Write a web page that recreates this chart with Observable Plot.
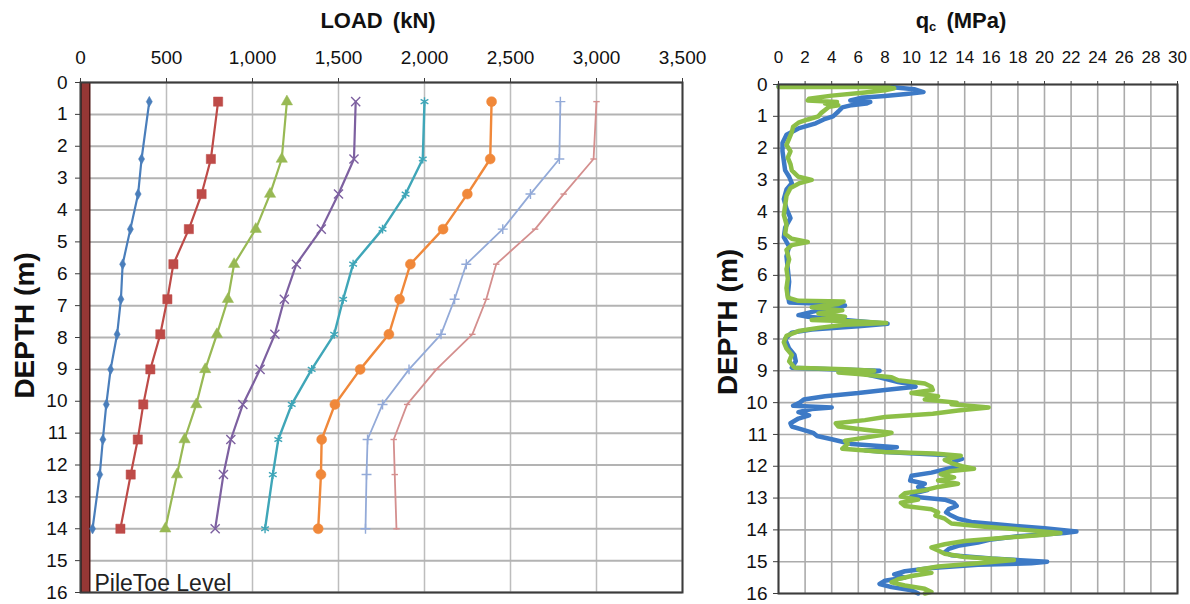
<!DOCTYPE html>
<html>
<head>
<meta charset="utf-8">
<script src="https://cdn.jsdelivr.net/npm/d3@7"></script>
<script src="https://cdn.jsdelivr.net/npm/@observablehq/plot@0.6"></script>
<style>
  html, body { margin: 0; padding: 0; background: #fff; }
  #page { position: relative; width: 1190px; height: 604px; overflow: hidden;
          font-family: "Liberation Sans", Arial, sans-serif; }
  .panel { position: absolute; top: 0; height: 604px; }
  .panel svg { position: absolute; left: 0; top: 38px; overflow: visible; }
  .title { position: absolute; top: 0; height: 38px; line-height: 42px; font-size: 22px;
           font-weight: bold; color: #111; white-space: nowrap; word-spacing: 4px;
           transform: translateX(-50%); }
  .title sub { font-size: 13px; vertical-align: -3px; line-height: 0; }
</style>
</head>
<body>
<div id="page">
  <div class="panel" id="load-panel" style="left:0;width:700px;">
    <div class="title" style="left:378px;">LOAD (kN)</div>
  </div>
  <div class="panel" id="cpt-panel" style="left:700px;width:490px;">
    <div class="title" style="left:261px;">q<sub>c</sub> (MPa)</div>
  </div>
</div>
<script>
// ---- Axis ticks ----
const loadTicks = [0, 500, 1000, 1500, 2000, 2500, 3000, 3500];
const depthTicks = [0, 1, 2, 3, 4, 5, 6, 7, 8, 9, 10, 11, 12, 13, 14, 15, 16];
const qcTicks = [0, 2, 4, 6, 8, 10, 12, 14, 16, 18, 20, 22, 24, 26, 28, 30];

// ---- Load distribution along the pile (strain-gauge levels, m) ----
const gaugeDepths = [0.6, 2.4, 3.5, 4.6, 5.7, 6.8, 7.9, 9.0, 10.1, 11.2, 12.3, 14.0];
const load400  = [400, 355, 335, 290, 245, 235, 213, 175, 150, 130, 112, 70];
const load800  = [800, 758, 704, 630, 540, 505, 464, 406, 365, 333, 292, 232];
const load1200 = [1200, 1170, 1102, 1019, 893, 857, 793, 725, 673, 605, 561, 493];
const load1600 = [1600, 1590, 1500, 1400, 1255, 1185, 1130, 1044, 944, 874, 831, 783];
const load2000 = [2000, 1990, 1890, 1756, 1585, 1527, 1475, 1344, 1228, 1150, 1118, 1073];
const load2400 = [2390, 2382, 2249, 2108, 1918, 1855, 1793, 1626, 1479, 1402, 1398, 1382];
const load2800 = [2790, 2784, 2616, 2455, 2243, 2175, 2096, 1910, 1756, 1669, 1663, 1657];
const load3000 = [3000, 2983, 2809, 2643, 2417, 2359, 2278, 2069, 1899, 1821, 1827, 1837];

// ---- Pile shaft (head to toe) ----
const pileDepths = [0, 16];

// ---- CPT cone resistance profiles: [depth (m), qc (MPa)] ----
const cptBlue = [
  [0.05, 0.0], [0.06, 8.0], [0.15, 10.2], [0.24, 10.9], [0.30, 9.6], [0.36, 8.0], [0.42, 6.2],
  [0.50, 5.4], [0.55, 6.9], [0.60, 6.6], [0.65, 5.5], [0.72, 4.8], [0.85, 4.5], [1.00, 4.1],
  [1.10, 3.4], [1.22, 2.8], [1.38, 1.5], [1.58, 0.6], [1.84, 0.3], [2.10, 0.3], [2.40, 0.4],
  [2.70, 0.5], [2.90, 0.8], [3.10, 1.0], [3.30, 0.6], [3.60, 0.4], [3.90, 0.6], [4.20, 0.9],
  [4.50, 0.5], [4.80, 0.4], [5.10, 0.8], [5.40, 0.6], [5.80, 0.7], [6.20, 0.8], [6.60, 0.7],
  [6.85, 0.8], [6.90, 3.8], [6.95, 5.0], [7.00, 4.6], [7.10, 3.0], [7.25, 1.5], [7.30, 2.2],
  [7.40, 5.0], [7.52, 8.2], [7.60, 6.0], [7.70, 2.5], [7.80, 1.0], [8.00, 0.5], [8.30, 0.8],
  [8.50, 1.2], [8.70, 1.3], [8.90, 1.0], [8.95, 4.0], [9.00, 7.6], [9.10, 6.5], [9.20, 7.5],
  [9.35, 9.0], [9.45, 10.2], [9.50, 10.3], [9.60, 8.0], [9.70, 6.0], [9.80, 3.5], [9.90, 1.9],
  [10.00, 1.6], [10.10, 1.1], [10.15, 4.0], [10.20, 2.5], [10.30, 1.5], [10.40, 2.3], [10.50, 1.5],
  [10.65, 0.9], [10.75, 1.0], [10.85, 1.8], [10.95, 2.6], [11.05, 2.9], [11.15, 4.0], [11.30, 5.5],
  [11.40, 8.9], [11.50, 6.5], [11.55, 8.0], [11.65, 12.5], [11.77, 13.8], [11.85, 13.2], [12.00, 13.5],
  [12.10, 12.5], [12.20, 11.5], [12.30, 10.0], [12.45, 9.9], [12.55, 11.0], [12.65, 10.5], [12.75, 11.2],
  [12.85, 10.2], [12.95, 10.0], [13.05, 12.5], [13.15, 13.2], [13.25, 13.4], [13.35, 12.8], [13.45, 12.6],
  [13.55, 13.0], [13.65, 13.5], [13.75, 14.5], [13.85, 17.0], [13.95, 20.0], [14.05, 22.4], [14.10, 21.5],
  [14.20, 18.0], [14.30, 16.0], [14.40, 15.0], [14.50, 13.5], [14.60, 12.8], [14.70, 12.5], [14.80, 13.0],
  [14.90, 16.0], [15.00, 20.2], [15.05, 19.0], [15.10, 15.0], [15.20, 11.5], [15.30, 9.5], [15.40, 8.7],
  [15.50, 9.5], [15.60, 8.0], [15.70, 7.6], [15.80, 8.5], [15.90, 10.0], [16.00, 10.5]
];
const cptGreen = [
  [0.08, 0.0], [0.08, 8.2], [0.12, 8.7], [0.18, 8.0], [0.25, 6.5], [0.35, 4.0], [0.45, 2.3],
  [0.50, 2.2], [0.55, 4.4], [0.60, 3.5], [0.65, 4.5], [0.70, 3.8], [0.80, 3.5], [0.90, 3.2],
  [1.00, 3.0], [1.10, 2.2], [1.20, 1.5], [1.33, 1.1], [1.50, 1.0], [1.70, 0.8], [1.90, 0.6],
  [2.10, 0.9], [2.30, 0.7], [2.50, 0.9], [2.70, 1.0], [2.90, 1.5], [3.00, 2.5], [3.10, 1.6],
  [3.25, 0.9], [3.50, 0.6], [3.80, 0.5], [4.10, 0.4], [4.40, 0.6], [4.70, 0.5], [4.85, 1.0],
  [4.95, 2.2], [5.05, 1.0], [5.20, 0.6], [5.50, 0.8], [5.80, 0.6], [6.10, 0.7], [6.40, 0.6],
  [6.70, 0.7], [6.80, 1.5], [6.82, 4.9], [6.90, 4.5], [7.00, 2.5], [7.10, 4.8], [7.20, 3.0],
  [7.30, 5.0], [7.40, 2.5], [7.45, 6.0], [7.50, 8.1], [7.55, 5.0], [7.65, 3.0], [7.75, 1.5],
  [7.90, 0.6], [8.10, 0.4], [8.30, 0.6], [8.50, 1.0], [8.70, 0.8], [8.90, 1.2], [8.95, 5.0],
  [9.00, 7.2], [9.05, 4.5], [9.10, 6.0], [9.20, 8.5], [9.30, 9.0], [9.40, 11.0], [9.50, 11.5],
  [9.60, 11.6], [9.70, 10.0], [9.80, 12.0], [9.90, 11.0], [10.00, 13.4], [10.05, 13.0], [10.15, 15.8],
  [10.25, 13.5], [10.35, 11.6], [10.45, 8.0], [10.55, 6.5], [10.65, 4.3], [10.75, 4.5], [10.85, 6.5],
  [10.95, 8.5], [11.00, 8.0], [11.10, 6.5], [11.20, 5.0], [11.30, 5.2], [11.45, 4.8], [11.55, 8.0],
  [11.60, 11.7], [11.67, 13.7], [11.80, 12.5], [11.90, 13.0], [12.00, 13.8], [12.08, 14.7], [12.15, 13.0],
  [12.25, 12.2], [12.35, 13.2], [12.45, 12.0], [12.55, 13.5], [12.65, 12.0], [12.75, 11.0], [12.85, 9.5],
  [12.95, 9.2], [13.05, 10.5], [13.15, 9.2], [13.25, 9.5], [13.35, 11.5], [13.45, 12.0], [13.55, 11.8],
  [13.65, 12.5], [13.80, 13.0], [13.90, 15.5], [14.00, 18.5], [14.10, 21.2], [14.15, 20.0], [14.25, 17.0],
  [14.35, 14.0], [14.45, 12.5], [14.55, 11.5], [14.65, 12.0], [14.75, 12.5], [14.85, 14.0], [14.95, 17.7],
  [15.05, 15.0], [15.15, 12.0], [15.25, 10.5], [15.35, 11.5], [15.45, 10.0], [15.55, 9.0], [15.65, 8.5],
  [15.75, 9.5], [15.85, 11.0], [15.95, 11.5], [16.00, 11.0]
];

// short horizontal dash marker
const dashSymbol = {
  draw(context, size) {
    const w = Math.sqrt(size) * 0.55;
    context.moveTo(-w, 0);
    context.lineTo(w, 0);
  }
};

// drawing style for each load step
const loadSeries = [
  {values: load400,  color: "#4a7ebb", symbol: "diamond",  r: 3.2, filled: true,  width: 2.2},
  {values: load800,  color: "#be4b48", symbol: "square",   r: 5.2, filled: true,  width: 2.2},
  {values: load1200, color: "#98b954", symbol: "triangle", r: 4.2, filled: true,  width: 2.2},
  {values: load1600, color: "#7d60a0", symbol: "times",    r: 4.2, filled: false, width: 2.2},
  {values: load2000, color: "#3fa6b8", symbol: "asterisk", r: 4.2, filled: false, width: 2.4},
  {values: load2400, color: "#f0883a", symbol: "circle",   r: 5,   filled: true,  width: 2.4},
  {values: load2800, color: "#93aad8", symbol: "plus",     r: 3.3, filled: false, width: 1.8},
  {values: load3000, color: "#d48f8e", symbol: dashSymbol, r: 3.3, filled: false, width: 1.8}
];

const font = "'Liberation Sans', Arial, sans-serif";
const H = 566;

// ---------------- Load vs depth panel ----------------
const loadMarks = [
  Plot.gridX(loadTicks, {stroke: "#bdbdbd", strokeOpacity: 1, strokeWidth: 1.5}),
  Plot.gridY(depthTicks, {stroke: "#b3b3b3", strokeOpacity: 1, strokeWidth: 2}),
  // pile shaft
  Plot.line(pileDepths.map(d => ({load: 0, depth: d})),
    {x: "load", y: "depth", stroke: "#4d1615", strokeWidth: 10, dx: 5, strokeLinecap: "butt"}),
  Plot.line(pileDepths.map(d => ({load: 0, depth: d})),
    {x: "load", y: "depth", stroke: "#953735", strokeWidth: 7, dx: 5, strokeLinecap: "butt"})
];
for (const s of loadSeries) {
  const rows = gaugeDepths.map((d, i) => ({depth: d, load: s.values[i]}));
  loadMarks.push(Plot.line(rows, {x: "load", y: "depth", stroke: s.color, strokeWidth: s.width}));
  loadMarks.push(Plot.dot(rows, {
    x: "load", y: "depth", symbol: s.symbol, r: s.r,
    fill: s.filled ? s.color : "none", stroke: s.color, strokeWidth: s.filled ? 0.5 : 1.4
  }));
}
loadMarks.push(
  Plot.frame({stroke: "#3c3c3c", strokeWidth: 2}),
  Plot.axisX(loadTicks, {anchor: "top", tickSize: 5, tickPadding: 14, tickFormat: d3.format(","),
    label: null, fontSize: 19, stroke: "#3c3c3c"}),
  Plot.axisY(depthTicks, {anchor: "left", tickSize: 5, tickPadding: 8, label: null,
    fontSize: 19, stroke: "#3c3c3c"}),
  Plot.text(["DEPTH (m)"], {frameAnchor: "left", textAnchor: "middle", rotate: -90, dx: -55, dy: -12,
    fontSize: 28, fontWeight: "bold", fill: "#111"}),
  Plot.text(["PileToe Level"], {frameAnchor: "bottom-left", textAnchor: "start", lineAnchor: "bottom",
    dx: 14, dy: -2, fontSize: 23, fill: "#222"})
);

const loadPlot = Plot.plot({
  width: 700, height: H,
  marginLeft: 80, marginRight: 18, marginTop: 44, marginBottom: 12,
  x: {domain: [0, 3500]},
  y: {domain: [0, 16], reverse: true},
  style: {fontFamily: font, fontSize: "18px", color: "#111", background: "transparent", overflow: "visible"},
  marks: loadMarks
});
document.getElementById("load-panel").appendChild(loadPlot);

// ---------------- Cone resistance panel ----------------
const cptPlot = Plot.plot({
  width: 490, height: H,
  marginLeft: 78, marginRight: 13, marginTop: 46, marginBottom: 11,
  x: {domain: [0, 30]},
  y: {domain: [0, 16], reverse: true},
  style: {fontFamily: font, fontSize: "16px", color: "#111", background: "transparent", overflow: "visible"},
  marks: [
    Plot.gridX(qcTicks, {stroke: "#ababab", strokeOpacity: 1, strokeWidth: 1.6}),
    Plot.gridY(depthTicks, {stroke: "#ababab", strokeOpacity: 1, strokeWidth: 1.6}),
    Plot.line(cptBlue, {x: d => d[1], y: d => d[0], stroke: "#3d7ac6", strokeWidth: 4.5}),
    Plot.line(cptGreen, {x: d => d[1], y: d => d[0], stroke: "#8dbf47", strokeWidth: 4.5}),
    Plot.frame({stroke: "#3c3c3c", strokeWidth: 2}),
    Plot.axisX(qcTicks, {anchor: "top", tickSize: 4, tickPadding: 18, label: null,
      fontSize: 17, stroke: "#3c3c3c"}),
    Plot.axisY(depthTicks, {anchor: "left", tickSize: 5, tickPadding: 6, label: null,
      fontSize: 19, stroke: "#3c3c3c"}),
    Plot.text(["DEPTH (m)"], {frameAnchor: "left", textAnchor: "middle", rotate: -90, dx: -50, dy: -17,
      fontSize: 28, fontWeight: "bold", fill: "#111"})
  ]
});
document.getElementById("cpt-panel").appendChild(cptPlot);
</script>
</body>
</html>
